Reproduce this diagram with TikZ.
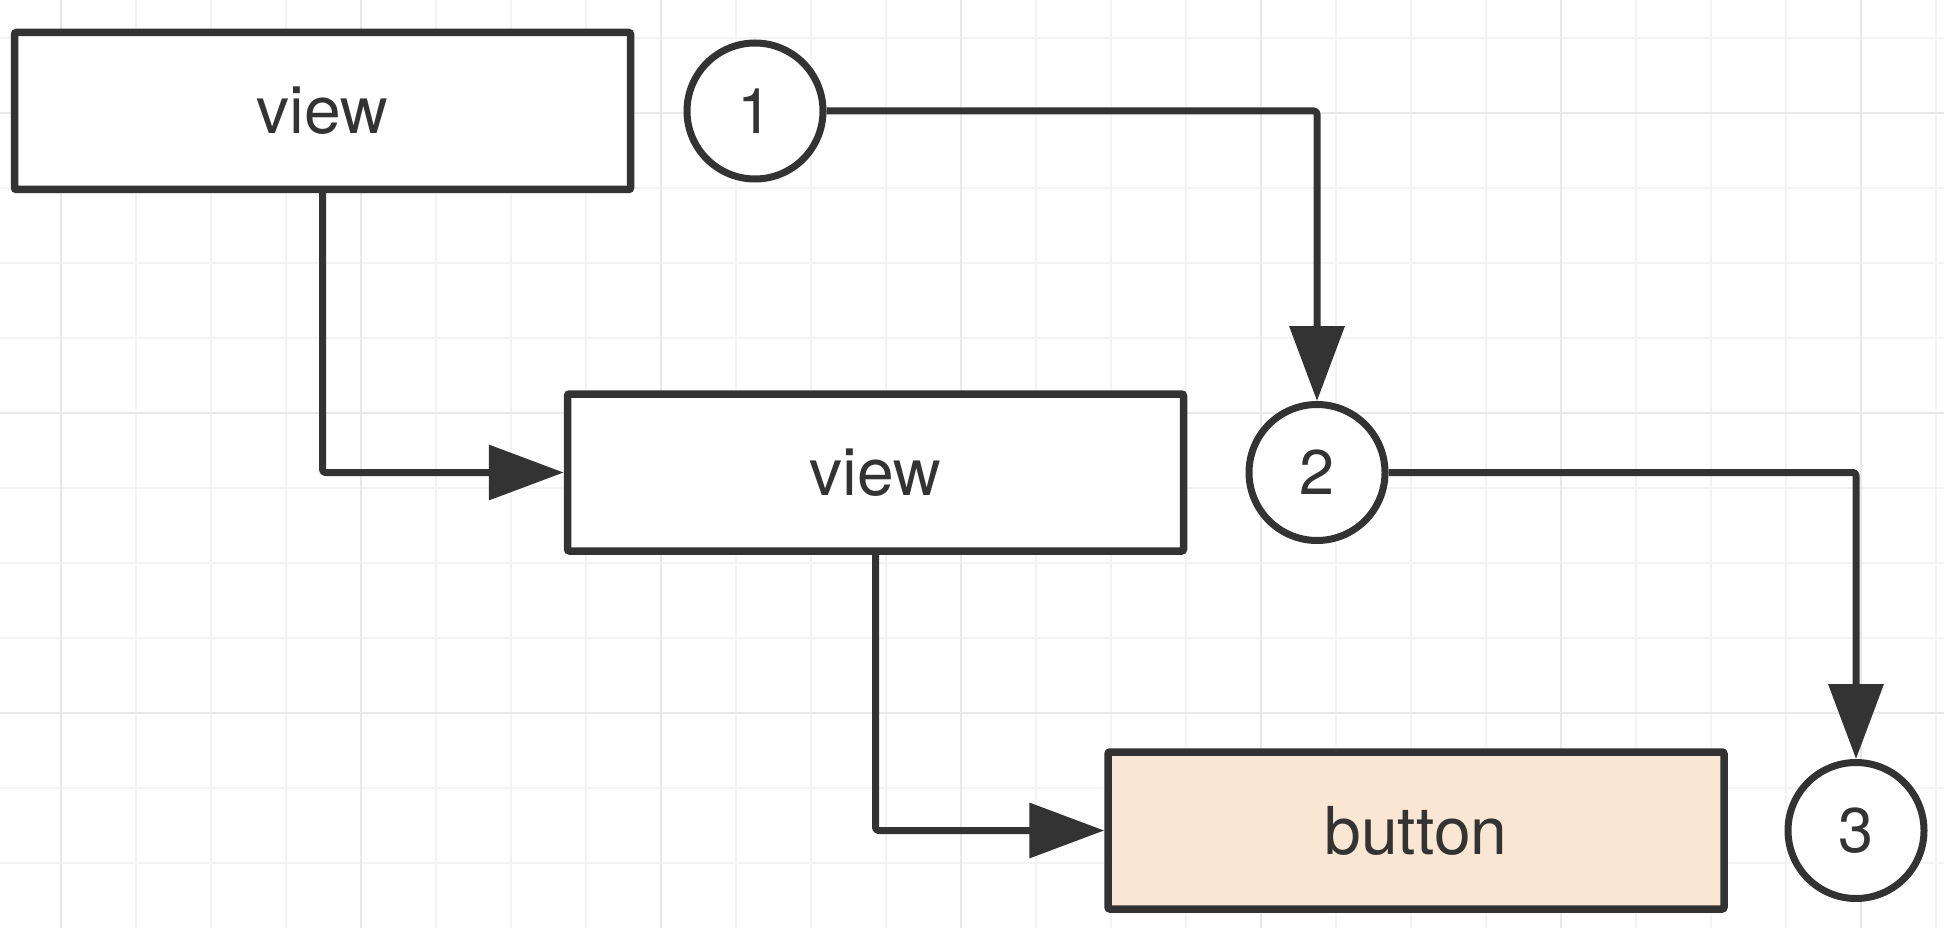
\documentclass[tikz,border=0pt]{standalone}
\usepackage{fontspec}
\setmainfont{TeX Gyre Heros}
\usetikzlibrary{arrows.meta}
\definecolor{ink}{HTML}{333333}
\definecolor{gridminor}{HTML}{F3F3F3}
\definecolor{gridmajor}{HTML}{E8E8E8}
\definecolor{btnfill}{HTML}{F9E6D3}
\tikzset{
  boxnode/.style={draw=ink, line width=7.5pt, rounded corners=2pt, fill=white,
    minimum width=616pt, minimum height=157pt, inner sep=0pt, text=ink,
    font=\fontsize{66}{79}\selectfont},
  numnode/.style={draw=ink, line width=7pt, circle, fill=white,
    minimum size=136pt, inner sep=0pt, text=ink,
    font=\fontsize{63}{76}\selectfont},
  conn/.style={draw=ink, line width=7pt, line join=round, rounded corners=3pt,
    -{Triangle[length=75pt,width=54pt]}},
}
\begin{document}
\begin{tikzpicture}[x=1pt,y=-1pt]
\useasboundingbox (0,0) rectangle (1944,928);
\fill[white] (0,0) rectangle (1944,928);
% grid
\foreach \x in {61,136,...,1940} \draw[gridminor, line width=2.5pt] (\x,0) -- (\x,928);
\foreach \y in {38,113,...,928} \draw[gridminor, line width=2.5pt] (0,\y) -- (1944,\y);
\foreach \x in {61,361,...,1940} \draw[gridmajor, line width=2.5pt] (\x,0) -- (\x,928);
\foreach \y in {113,413,713} \draw[gridmajor, line width=2.5pt] (0,\y) -- (1944,\y);
% nodes
\node[boxnode] (b1) at (322.5,111) {view};
\node[numnode] (c1) at (755,111) {1};
\node[boxnode] (b2) at (875.5,472.5) {view};
\node[numnode] (c2) at (1317,472.5) {2};
\node[boxnode, fill=btnfill] (b3) at (1416,830.5) {button};
\node[numnode] (c3) at (1856,830.5) {3};
% connectors
\draw[conn] (b1.south) |- (b2.west);
\draw[conn] (c1.east) -| (c2.north);
\draw[conn] (b2.south) |- (b3.west);
\draw[conn] (c2.east) -| (c3.north);
\end{tikzpicture}
\end{document}
